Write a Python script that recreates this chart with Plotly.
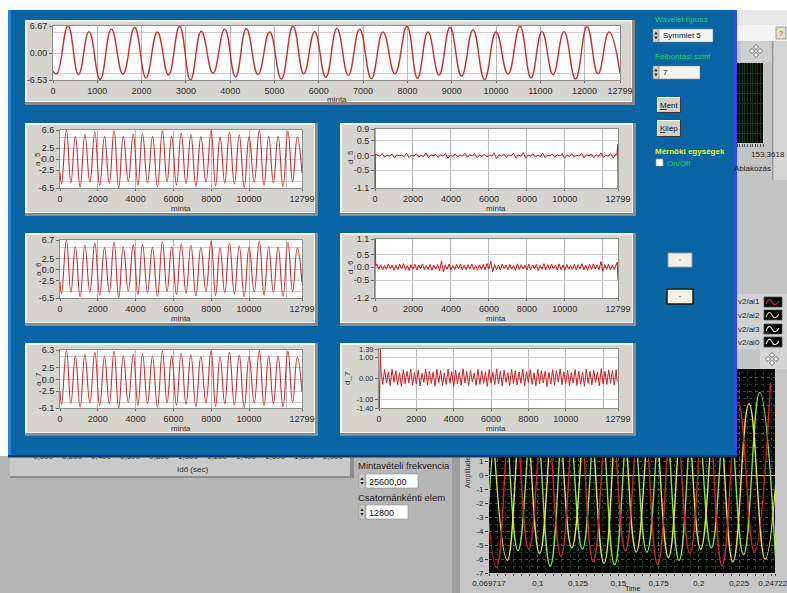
import plotly.graph_objects as go

# ------------------------------------------------------------------ data
N_SAMPLES = 12800
X_LAST = N_SAMPLES - 1

# sample index of every maximum / minimum of the measured waveform
PEAK_SAMPLES = [339, 813, 1317, 1843, 2355, 2859, 3348, 3875, 4364, 4891, 5417, 5906,
                6410, 6922, 7449, 7991, 8465, 8962, 9481, 10000, 10542, 11038, 11535,
                12054, 12551]
TROUGH_SAMPLES = [85, 576, 1065, 1580, 2099, 2607, 3104, 3612, 4120, 4628, 5154, 5662,
                  6158, 6666, 7186, 7720, 8228, 8714, 9222, 9741, 10271, 10790, 11287,
                  11795, 12303]

# original signal
SIGNAL_PEAKS = [6.67, 5.3, 5.9, 6.3, 5.2, 6.6, 5.4, 5.9, 6.0, 5.2, 6.6, 5.3, 6.1, 5.9, 5.2,
                6.6, 5.2, 6.3, 5.7, 5.2, 6.6, 5.3, 5.3, 6.5, 5.2]
SIGNAL_TROUGHS = [-5.0, -5.2, -6.4, -5.1, -6.0, -5.3, -6.53, -4.9, -5.8, -5.2, -6.3, -5.0,
                  -5.9, -5.4, -6.2, -5.0, -6.1, -5.3, -5.6, -6.4, -5.1, -6.0, -5.2, -6.3, -5.0]
SIGNAL_ENDS = [-4.3, -4.8]

# approximations a_5, a_6, a_7
A5_PEAKS = [6.6, 5.2, 5.6, 6.1, 5.1, 6.4, 5.2, 5.7, 5.8, 5.1, 6.4, 5.2, 5.9, 5.6, 5.1,
            6.5, 5.0, 6.1, 5.5, 5.1, 6.5, 5.2, 5.2, 6.3, 5.0]
A5_TROUGHS = [-5.6, -5.3, -6.3, -5.2, -5.9, -5.4, -6.5, -5.0, -5.8, -5.3, -6.2, -5.1, -5.8,
              -5.5, -6.1, -5.1, -6.0, -5.4, -5.6, -6.3, -5.2, -5.9, -5.3, -6.2, -5.1]
A5_ENDS = [-3.0, -3.2]

A6_PEAKS = [6.7, 5.1, 5.5, 6.0, 5.0, 6.3, 5.1, 5.6, 5.7, 5.0, 6.3, 5.1, 5.8, 5.5, 5.0,
            6.5, 4.9, 6.0, 5.4, 5.0, 6.4, 5.1, 5.1, 6.2, 4.9]
A6_TROUGHS = [-5.5, -5.2, -6.2, -5.1, -5.8, -5.3, -6.5, -4.9, -5.7, -5.2, -6.1, -5.0, -5.7,
              -5.4, -6.0, -5.0, -5.9, -5.3, -5.5, -6.2, -5.1, -5.8, -5.2, -6.1, -5.0]
A6_ENDS = [-2.8, -3.0]

A7_PEAKS = [6.3, 5.0, 5.3, 5.8, 4.9, 6.0, 5.0, 5.4, 5.5, 4.9, 6.1, 5.0, 5.6, 5.3, 4.9,
            6.2, 4.8, 5.8, 5.2, 4.9, 6.2, 5.0, 5.0, 6.0, 4.8]
A7_TROUGHS = [-5.3, -5.1, -5.9, -5.0, -5.6, -5.2, -6.1, -4.9, -5.5, -5.1, -5.9, -5.0, -5.5,
              -5.3, -5.8, -5.0, -5.7, -5.2, -5.4, -6.0, -5.0, -5.6, -5.1, -5.9, -4.9]
A7_ENDS = [-2.5, -2.7]

# detail d_5: edge transients + values every 128 samples
D5_HEAD_SAMPLES = [0, 6, 16]
D5_HEAD = [0.9, -1.1, 0.05]
D5_STEP = 128
D5_BODY = [0.02, -0.03, 0.07, -0.06, 0.01, -0.02, 0.05, -0.08, 0.03, -0.01,
           0.02, -0.04, 0.08, -0.07, 0.02, -0.02, 0.06, -0.05, 0.01, -0.03,
           0.09, -0.08, 0.02, -0.01, 0.04, -0.06, 0.03, -0.02, 0.07, -0.09,
           0.01, -0.03, 0.05, -0.04, 0.02, -0.02, 0.08, -0.06, 0.03, -0.01,
           0.06, -0.07, 0.02, -0.03, 0.04, -0.05, 0.01, -0.02, 0.09, -0.10,
           0.03, -0.02, 0.05, -0.06, 0.02, -0.01, 0.07, -0.08, 0.03, -0.03,
           0.10, -0.09, 0.02, -0.02, 0.06, -0.05, 0.01, -0.04, 0.08, -0.07,
           0.02, -0.01, 0.05, -0.06, 0.03, -0.02, 0.07, -0.09, 0.02, -0.03,
           0.06, -0.05, 0.01, -0.02, 0.08, -0.08, 0.03, -0.01, 0.05, -0.07,
           0.02, -0.03, 0.09, -0.06, 0.01, -0.02, 0.07, -0.08, 0.04]
D5_TAIL_SAMPLES = [12740, 12785, 12799]
D5_TAIL = [0.03, 0.38, -1.1]

# detail d_6: values every 100 samples
D6_HEAD_SAMPLES = [0, 12, 40]
D6_HEAD = [-1.2, 1.1, 0.05]
D6_STEP = 100
D6_BODY = [0.12, -0.08, 0.10, -0.11, 0.07, -0.09, 0.13, -0.06, 0.09, -0.12,
           0.08, -0.10, 0.11, -0.07, 0.14, -0.09, 0.06, -0.13, 0.10, -0.08,
           0.12, -0.11, 0.09, -0.06, 0.13, -0.10, 0.07, -0.09, 0.11, -0.12,
           0.08, -0.07, 0.10, -0.14, 0.24, -0.18, 0.09, -0.08, 0.12, -0.10,
           0.06, -0.09, 0.11, -0.07, 0.13, -0.11, 0.08, -0.10, 0.10, -0.06,
           0.12, -0.09, 0.07, -0.12, 0.09, -0.08, 0.11, -0.10, 0.14, -0.07,
           0.23, -0.19, 0.10, -0.09, 0.08, -0.11, 0.12, -0.06, 0.09, -0.10,
           0.11, -0.08, 0.07, -0.12, 0.13, -0.09, 0.10, -0.07, 0.08, -0.11,
           0.12, -0.10, 0.09, -0.06, 0.11, -0.13, 0.07, -0.08, 0.14, -0.10,
           0.10, -0.09, 0.12, -0.07, 0.08, -0.11, 0.13, -0.10, 0.09, -0.12,
           0.11, -0.08, 0.07, -0.09, 0.12, -0.11, 0.10, -0.06, 0.14, -0.10,
           0.08, -0.12, 0.11, -0.09, 0.13, -0.07, 0.09, -0.10, 0.22, -0.16,
           0.10, -0.09, 0.12, -0.11, 0.08, -0.10, 0.09]
D6_TAIL_SAMPLES = [12760, 12799]
D6_TAIL = [0.2, -0.5]

# detail d_7: values every 100 samples
D7_HEAD_SAMPLES = [0, 25, 70]
D7_HEAD = [-0.2, -1.4, 1.39]
D7_STEP = 100
D7_BODY = [0.38, -0.28, 0.42, -0.22, 0.31, -0.35, 0.44, -0.18, 0.36, -0.30,
           0.27, -0.38, 0.41, -0.25, 0.33, -0.21, 0.45, -0.33, 0.29, -0.27,
           0.39, -0.36, 0.24, -0.19, 0.43, -0.31, 0.35, -0.24, 0.30, -0.37,
           0.42, -0.20, 0.37, -0.34, 0.26, -0.29, 0.44, -0.23, 0.32, -0.39,
           0.40, -0.26, 0.28, -0.32, 0.46, -0.21, 0.34, -0.35, 0.38, -0.17,
           0.25, -0.33, 0.43, -0.28, 0.36, -0.24, 0.31, -0.38, 0.41, -0.22,
           0.29, -0.30, 0.45, -0.27, 0.33, -0.36, 0.39, -0.19, 0.27, -0.34,
           0.42, -0.25, 0.35, -0.31, 0.30, -0.23, 0.44, -0.37, 0.32, -0.20,
           0.40, -0.29, 0.26, -0.35, 0.43, -0.26, 0.37, -0.22, 0.34, -0.39,
           0.28, -0.27, 0.41, -0.32, 0.36, -0.18, 0.45, -0.30, 0.31, -0.25,
           0.39, -0.36, 0.27, -0.21, 0.42, -0.33, 0.35, -0.28, 0.29, -0.37,
           0.44, -0.24, 0.33, -0.31, 0.38, -0.20, 0.30, -0.35, 0.46, -0.26,
           0.34, -0.29, 0.40, -0.23, 0.37, -0.32, 0.41]
D7_TAIL_SAMPLES = [12750, 12799]
D7_TAIL = [-0.12, -0.16]

# axis tick values
TOP_YTICKS = [6.67, 0.00, -6.53]
TOP_YGRID = [5, -5]
TOP_XTICKS = [0, 1000, 2000, 3000, 4000, 5000, 6000, 7000, 8000, 9000, 10000, 11000,
              12000, 12799]
SMALL_XTICKS = [0, 2000, 4000, 6000, 8000, 10000, 12799]
SMALL_XGRID = [12000]
A5_YTICKS = [6.6, 2.5, 0.0, -2.5, -6.5]
A6_YTICKS = [6.7, 2.5, 0.0, -2.5, -6.5]
A7_YTICKS = [6.3, 2.5, 0.0, -2.5, -6.1]
A_YGRID = [5, -5]
D5_YTICKS = [0.9, 0.5, 0.0, -0.5, -1.1]
D6_YTICKS = [1.1, 0.5, 0.0, -0.5, -1.2]
D7_YTICKS = [1.39, 1.00, 0.00, -1.00, -1.40]

# three-phase scope traces (time of each max / min, value)
RED_PEAK_T = [0.0644, 0.0844, 0.1044, 0.1244, 0.1444, 0.1644, 0.1844, 0.2044, 0.2244, 0.2444]
RED_PEAK_V = [5.8, 6.2, 5.4, 6.5, 5.6, 6.1, 5.3, 6.4, 5.2, 6.6]
RED_TROUGH_T = [0.0744, 0.0944, 0.1144, 0.1344, 0.1544, 0.1744, 0.1944, 0.2144, 0.2344]
RED_TROUGH_V = [-6.6, -5.3, -5.8, -6.2, -5.4, -6.4, -5.6, -6.5, -5.5]
YEL_PEAK_T = [0.0711, 0.0911, 0.1111, 0.1311, 0.1511, 0.1711, 0.1911, 0.2111, 0.2311, 0.2511]
YEL_PEAK_V = [5.5, 6.0, 5.7, 5.2, 6.3, 5.4, 5.9, 5.6, 5.1, 5.8]
YEL_TROUGH_T = [0.0811, 0.1011, 0.1211, 0.1411, 0.1611, 0.1811, 0.2011, 0.2211, 0.2411]
YEL_TROUGH_V = [-6.1, -5.6, -5.2, -6.3, -5.5, -5.9, -5.3, -6.2, -6.0]
GRN_PEAK_T = [0.0777, 0.0977, 0.1177, 0.1377, 0.1577, 0.1777, 0.1977, 0.2177, 0.2377]
GRN_PEAK_V = [6.1, 5.4, 5.9, 6.2, 5.3, 5.8, 6.0, 5.5, 5.9]
GRN_TROUGH_T = [0.0677, 0.0877, 0.1077, 0.1277, 0.1477, 0.1677, 0.1877, 0.2077, 0.2277, 0.2477]
GRN_TROUGH_V = [-5.6, -5.4, -6.5, -5.3, -6.4, -5.5, -6.1, -5.2, -5.7, -6.3]

SCOPE_T_RANGE = [0.069717, 0.247227]
SCOPE_V_RANGE = [-7.0, 7.357]
SCOPE_TIME_TICKS = [0.069717, 0.1, 0.125, 0.15, 0.175, 0.2, 0.225, 0.247227]
SCOPE_AMP_TICKS = [1, 0, -1, -2, -3, -4, -5, -6, -7]

TIME_AXIS_TICKS = [0.0, 0.2, 0.4, 0.6, 0.8, 1.0, 1.2, 1.4, 1.6, 1.8, 2.0]

# ------------------------------------------------------------ helpers
W, H = 787, 593
FONT = 'Liberation Sans, Arial, sans-serif'
BLUE = '#0864a2'
FACE = '#d6d4cf'


def fx(x):
    return x / W


def fy(y):
    return 1 - y / H


def xdom(a, b):
    return [a / W, b / W]


def ydom(a, b):
    return [1 - b / H, 1 - a / H]


shapes = []
annos = []
layout_axes = {}
traces = []


def rect(x0, y0, x1, y1, fill, line=None, lw=0, layer='below'):
    shapes.append(dict(type='rect', xref='paper', yref='paper', x0=fx(x0), x1=fx(x1),
                       y0=fy(y1), y1=fy(y0), fillcolor=fill, layer=layer,
                       line=dict(color=line or fill, width=lw)))


def poly(points, fill, line=None, lw=0, close=True):
    d = 'M ' + ' L '.join(f'{fx(x):.5f},{fy(y):.5f}' for x, y in points)
    if close:
        d += ' Z'
    shapes.append(dict(type='path', xref='paper', yref='paper', path=d, layer='below',
                       fillcolor=fill if close else None,
                       line=dict(color=line or fill, width=lw)))


def curve(d_points, color, lw=1.2):
    (x0, y0), (x1, y1), (x2, y2), (x3, y3) = d_points
    d = (f'M {fx(x0):.5f},{fy(y0):.5f} Q {fx(x1):.5f},{fy(y1):.5f} '
         f'{fx(x2):.5f},{fy(y2):.5f} T {fx(x3):.5f},{fy(y3):.5f}')
    shapes.append(dict(type='path', xref='paper', yref='paper', path=d, layer='below',
                       line=dict(color=color, width=lw)))


def text(x, y, s, size=8, color='#222222', xanchor='left', angle=0, family=FONT):
    annos.append(dict(xref='paper', yref='paper', x=fx(x), y=fy(y), text=s,
                      showarrow=False, xanchor=xanchor, yanchor='middle',
                      textangle=angle, borderpad=0,
                      font=dict(size=size, color=color, family=family)))


def names(i):
    s = '' if i == 1 else str(i)
    return 'xaxis' + s, 'yaxis' + s, 'x' + s, 'y' + s


def diamond_glyph(cx, cy):
    for dx, dy in [(0, -4), (4, 0), (0, 4), (-4, 0)]:
        c = (cx + dx, cy + dy)
        poly([(c[0], c[1] - 2.6), (c[0] + 2.6, c[1]), (c[0], c[1] + 2.6), (c[0] - 2.6, c[1])],
             '#f4f4f4', '#6e6e6e', 1)


def frame(x0, y0, x1, y1):
    rect(x0, y0, x1, y1, '#8a8a8a')
    rect(x0, y0, x1 - 3, y1 - 3, '#f3f3ef')
    rect(x0 + 2, y0 + 2, x1 - 4, y1 - 4, FACE)


def spinner(x0, y0, y1):
    rect(x0, y0, x0 + 6, y1, '#d4d0c8', '#8a8a8a', 0.5)
    m = (y0 + y1) / 2
    poly([(x0 + 1.2, m - 1), (x0 + 4.8, m - 1), (x0 + 3, m - 4)], '#303030')
    poly([(x0 + 1.2, m + 1), (x0 + 4.8, m + 1), (x0 + 3, m + 4)], '#303030')


TICKFONT = dict(family=FONT, size=9, color='#2b2b2b')


def lv_axes(i, xd, yd, xticks, xgrid, yticks, ydigits, ygrid, ysize=9):
    xk, yk, xr, yr = names(i)
    layout_axes[xk] = dict(
        domain=xdom(*xd), anchor=yr, range=[0, X_LAST], tickmode='array', automargin=False,
        tickvals=xticks, ticktext=[str(v) for v in xticks], ticks='outside', ticklen=2,
        tickcolor='#6a6a6a', tickfont=TICKFONT, showgrid=True, gridcolor='#b7b7b7',
        zeroline=False, showline=True, linecolor='#8c8c8c', mirror=True,
        minor=dict(tickmode='array', tickvals=xgrid, showgrid=True,
                   gridcolor='#b7b7b7', ticks=''))
    layout_axes[yk] = dict(
        domain=ydom(*yd), anchor=xr, range=[yticks[-1], yticks[0]], tickmode='array',
        automargin=False,
        tickvals=yticks, ticktext=[f'{v:.{ydigits}f}' for v in yticks], ticks='outside',
        ticklen=3, tickcolor='#6a6a6a', tickfont=dict(TICKFONT, size=ysize), showgrid=True,
        gridcolor='#d2cccc', zeroline=False, showline=True, linecolor='#8c8c8c',
        mirror=True,
        minor=dict(tickmode='array', tickvals=ygrid, showgrid=True,
                   gridcolor='#d2cccc', ticks=''))
    return xr, yr


def waveform(peaks, troughs, ends):
    pts = sorted(list(zip(PEAK_SAMPLES, peaks)) + list(zip(TROUGH_SAMPLES, troughs)))
    xs = [0] + [p[0] for p in pts] + [X_LAST]
    ys = [ends[0]] + [p[1] for p in pts] + [ends[1]]
    return xs, ys


def detail(head_s, head, step, body, tail_s, tail):
    xs = head_s + [step * (k + 1) for k in range(len(body))] + tail_s
    return xs, head + body + tail


def phase(pt, pv, tt, tv):
    pts = sorted(list(zip(pt, pv)) + list(zip(tt, tv)))
    return [p[0] for p in pts], [p[1] for p in pts]


def add_line(xr, yr, xs, ys, color, width, shape='linear'):
    line = dict(color=color, width=width, shape=shape)
    if shape == 'spline':
        line['smoothing'] = 1.3
    traces.append(go.Scatter(x=xs, y=ys, mode='lines', xaxis=xr, yaxis=yr, line=line,
                             hoverinfo='skip', showlegend=False))


# ------------------------------------------------ background of the front panel
rect(735, 10, 787, 593, '#c3c3c3')
rect(0, 456, 787, 593, '#b5b5b5')

# right-hand strip of the underlying panel
rect(737, 10, 787, 25, '#e8e8e8')
rect(737, 25, 787, 41, '#f4f4f4')
rect(776, 27, 786, 39, '#e6dfc4', '#8a8a8a', 0.8)
text(781, 33, '?', size=7, color='#6a5a20', xanchor='center')
rect(773, 41, 787, 180, '#d5d5d5')
rect(772, 41, 773.5, 180, '#9a9a9a')
rect(741, 41, 771, 62, '#d0d0d0')
diamond_glyph(756, 51)
rect(737, 63, 763, 143, '#000000')
text(786, 154, '153,3618', size=8, color='#202020', xanchor='right')
text(752, 168, 'Ablakozás', size=8, color='#202020', xanchor='center')

# channel legend
rect(735, 294, 787, 349, '#d2d2d2')
legend_rows = [('v2/ai1', 302, '#c83030'), ('v2/ai2', 315, '#e0e040'),
               ('v2/ai3', 329, '#e8e8e8'), ('v2/ai0', 342, '#f4f4f4')]
for label, yy, col in legend_rows:
    text(737, yy, label, size=8, color='#202020')
    rect(764, yy - 5, 782, yy + 5, '#000000', '#505050', 0.8)
    curve([(766, yy + 2), (769, yy - 6), (772, yy), (779, yy - 1)], col, 1.1)
rect(760, 349, 787, 369, '#d4d4d4')
diamond_glyph(772, 359)

# scope panel
rect(460, 369, 787, 593, '#c6c6c6')
rect(452, 456, 460, 593, '#9e9e9e')
rect(489, 369, 775, 573, '#000000')
text(468, 473, 'Amplitude', size=7, color='#333333', xanchor='center', angle=-90)

# lower left panel with the time axis
rect(10, 456, 354, 478, '#8e8e8e')
rect(10, 456, 350, 476, '#c9c9c9')
text(192, 469, 'Idő (sec)', size=8, color='#2a2a2a', xanchor='center')
text(357, 465, 'Mintavételi frekvencia', size=9.5, color='#1c1c1c')
spinner(359, 474, 488)
rect(366, 474, 418, 488, '#ffffff', '#8c8c8c', 0.6)
text(368, 481.5, '25600,00', size=9, color='#111111')
text(357, 497, 'Csatornánkénti elem', size=9.5, color='#1c1c1c')
spinner(359, 505, 519)
rect(366, 505, 408, 519, '#ffffff', '#8c8c8c', 0.6)
text(368, 512.5, '12800', size=9, color='#111111')

# ------------------------------------------------ the wavelet window
rect(8, 10, 737, 457, BLUE)
rect(8, 10, 11, 457, '#2f7fd0')
rect(734, 10, 737, 457, '#2c48ee')

frame(25, 20, 635, 105)
rect(53, 26, 620, 80, '#ffffff')
for (y0, y1) in [(123, 216), (233, 326), (343, 436)]:
    frame(25, y0, 318, y1)
    frame(340, y0, 636, y1)
for (y0, y1) in [(130, 188), (240, 298), (350, 408)]:
    rect(60, y0, 302, y1, '#ffffff')
rect(375, 129, 618, 188, '#ffffff')
rect(375, 239, 618, 298, '#ffffff')
rect(379, 349, 618, 408, '#ffffff')

# axis captions
text(337, 99.5, 'minta', size=8, color='#333333', xanchor='center')
for yy in (208.5, 318.5, 428.5):
    text(181, yy, 'minta', size=8, color='#333333', xanchor='center')
for yy in (208.5, 318.5, 428.5):
    text(496, yy, 'minta', size=8, color='#333333', xanchor='center')
for lab, yy in (('a_5', 159), ('a_6', 269), ('a_7', 379)):
    text(38, yy, lab, size=8, color='#333333', xanchor='center', angle=-90)
for lab, xx, yy in (('d_5', 350, 157), ('d_6', 350, 267), ('d_7', 347, 378)):
    text(xx, yy, lab, size=8, color='#333333', xanchor='center', angle=-90)

# controls on the right side of the window
text(654, 20, 'Wavelet típusa', size=8, color='#1fd35c')
spinner(653, 29, 42)
rect(659, 29, 713, 42, '#f4f4f0', '#8a8a8a', 0.6)
text(662, 35.5, 'Symmlet 5', size=8, color='#111111')
text(654, 57, 'Felbontási szint', size=8, color='#1fd35c')
spinner(653, 66, 79)
rect(659, 66, 700, 79, '#f4f4f0', '#8a8a8a', 0.6)
text(662, 72.5, '7', size=8, color='#111111')
for (y0, y1, lab) in ((97, 113, '<span style="text-decoration:underline">M</span>ent'),
                      (120, 137, '<span style="text-decoration:underline">K</span>ilép')):
    rect(657, y0, 681, y1, '#3a3a3a')
    rect(657, y0, 680, y1 - 1, '#ffffff')
    rect(658, y0 + 1, 680, y1 - 1, '#d4d0c8')
    text(669, (y0 + y1) / 2, lab, size=8, color='#111111', xanchor='center')
text(654, 152, '<b>Mérnöki egységek</b>', size=8, color='#eef02a')
rect(656, 159, 663, 166, '#ffffff', '#9a9a9a', 0.6)
text(666, 163, 'On/Off', size=8, color='#1fd35c')
rect(668, 253, 692, 267, '#f3efe2', '#8f9aa8', 1)
rect(679.5, 259.5, 680.5, 260.5, '#404040')
rect(667, 289, 693, 304, '#f3efe2', '#1a1a1a', 1.5)
rect(679.5, 296, 680.5, 297, '#404040')

# bottom edge of the window, drawn over the partly hidden time axis labels
rect(11, 440, 734, 455, BLUE, layer='above')
rect(8, 455, 737, 457.5, '#073c6e', layer='above')

# ------------------------------------------------ charts
charts = [
    (1, (53, 620), (26, 80), TOP_XTICKS, [], TOP_YTICKS, 2, TOP_YGRID, 9,
     waveform(SIGNAL_PEAKS, SIGNAL_TROUGHS, SIGNAL_ENDS), '#cc2b2b', 1.4, 'spline'),
    (2, (60, 302), (130, 188), SMALL_XTICKS, SMALL_XGRID, A5_YTICKS, 1, A_YGRID, 9,
     waveform(A5_PEAKS, A5_TROUGHS, A5_ENDS), '#cc2b2b', 1.1, 'spline'),
    (3, (375, 618), (129, 188), SMALL_XTICKS, SMALL_XGRID, D5_YTICKS, 1, [], 9,
     detail(D5_HEAD_SAMPLES, D5_HEAD, D5_STEP, D5_BODY, D5_TAIL_SAMPLES, D5_TAIL),
     '#dd1111', 1.0, 'linear'),
    (4, (60, 302), (240, 298), SMALL_XTICKS, SMALL_XGRID, A6_YTICKS, 1, A_YGRID, 9,
     waveform(A6_PEAKS, A6_TROUGHS, A6_ENDS), '#cc2b2b', 1.1, 'spline'),
    (5, (375, 618), (239, 298), SMALL_XTICKS, SMALL_XGRID, D6_YTICKS, 1, [], 9,
     detail(D6_HEAD_SAMPLES, D6_HEAD, D6_STEP, D6_BODY, D6_TAIL_SAMPLES, D6_TAIL),
     '#dd1111', 1.0, 'linear'),
    (6, (60, 302), (350, 408), SMALL_XTICKS, SMALL_XGRID, A7_YTICKS, 1, A_YGRID, 9,
     waveform(A7_PEAKS, A7_TROUGHS, A7_ENDS), '#cc2b2b', 1.1, 'spline'),
    (7, (379, 618), (349, 408), SMALL_XTICKS, SMALL_XGRID, D7_YTICKS, 2, [], 7.5,
     detail(D7_HEAD_SAMPLES, D7_HEAD, D7_STEP, D7_BODY, D7_TAIL_SAMPLES, D7_TAIL),
     '#d81c1c', 1.0, 'linear'),
]
for (i, xd, yd, xt, xg, yt, nd, yg, ysz, (xs, ys), col, lw, shp) in charts:
    xr, yr = lv_axes(i, xd, yd, xt, xg, yt, nd, yg, ysz)
    add_line(xr, yr, xs, ys, col, lw, shp)

# ------------------------------------------------ scope (split around the window)
SC_X0, SC_X1, SC_Y0, SC_Y1 = 489, 775, 372, 573
CUT_X, CUT_Y = 737, 457.5


def t_at(px_x):
    return SCOPE_T_RANGE[0] + (px_x - SC_X0) / (SC_X1 - SC_X0) * (SCOPE_T_RANGE[1] - SCOPE_T_RANGE[0])


def v_at(px_y):
    return SCOPE_V_RANGE[0] + (SC_Y1 - px_y) / (SC_Y1 - SC_Y0) * (SCOPE_V_RANGE[1] - SCOPE_V_RANGE[0])


SCOPE_FONT = dict(family=FONT, size=8, color='#202020')
grid_common = dict(showgrid=True, gridcolor='#2a6a2a', griddash='dot', gridwidth=1,
                   automargin=False)
layout_axes['xaxis8'] = dict(
    domain=xdom(SC_X0, SC_X1), anchor='y8', range=SCOPE_T_RANGE, tickmode='array',
    tickvals=SCOPE_TIME_TICKS, ticktext=[str(v).replace('.', ',') for v in SCOPE_TIME_TICKS],
    ticks='outside', ticklen=2, tickcolor='#303030', tickfont=SCOPE_FONT, zeroline=False,
    showline=False, ticklabeloverflow='allow',
    minor=dict(tickmode='linear', tick0=0, dtick=0.005, showgrid=True, gridcolor='#174417',
               griddash='dot', ticks='outside', ticklen=2, tickcolor='#404040'),
    **grid_common)
layout_axes['yaxis8'] = dict(
    domain=ydom(CUT_Y, SC_Y1), anchor='x8', range=[SCOPE_V_RANGE[0], v_at(CUT_Y)],
    tickmode='array', tickvals=SCOPE_AMP_TICKS, ticktext=[str(v) for v in SCOPE_AMP_TICKS],
    ticks='outside', ticklen=3, tickcolor='#303030', tickfont=SCOPE_FONT, zeroline=True,
    zerolinecolor='#bdbdbd', zerolinewidth=1, showline=False,
    minor=dict(tickmode='linear', tick0=0, dtick=0.5, showgrid=True, gridcolor='#174417',
               griddash='dot'),
    **grid_common)
layout_axes['xaxis9'] = dict(
    domain=xdom(CUT_X, SC_X1), anchor='y9', range=[t_at(CUT_X), SCOPE_T_RANGE[1]],
    tickmode='array', tickvals=SCOPE_TIME_TICKS, showticklabels=False, ticks='',
    zeroline=False, showline=False,
    minor=dict(tickmode='linear', tick0=0, dtick=0.005, showgrid=True, gridcolor='#174417',
               griddash='dot'),
    **grid_common)
layout_axes['yaxis9'] = dict(
    domain=ydom(SC_Y0, CUT_Y), anchor='x9', range=[v_at(CUT_Y), SCOPE_V_RANGE[1]],
    tickmode='linear', tick0=0, dtick=1, showticklabels=False, ticks='', zeroline=False,
    showline=False,
    minor=dict(tickmode='linear', tick0=0, dtick=0.5, showgrid=True, gridcolor='#174417',
               griddash='dot'),
    **grid_common)
text(632, 588.5, 'Time', size=7, color='#202020', xanchor='center')

for (pt, pv, tt, tv, col) in ((GRN_PEAK_T, GRN_PEAK_V, GRN_TROUGH_T, GRN_TROUGH_V, '#8fe14c'),
                              (YEL_PEAK_T, YEL_PEAK_V, YEL_TROUGH_T, YEL_TROUGH_V, '#e3e63e'),
                              (RED_PEAK_T, RED_PEAK_V, RED_TROUGH_T, RED_TROUGH_V, '#d42a22')):
    ts, vs = phase(pt, pv, tt, tv)
    add_line('x8', 'y8', ts, vs, col, 1.4, 'spline')
    add_line('x9', 'y9', ts, vs, col, 1.4, 'spline')

# small black display in the right strip
layout_axes['xaxis10'] = dict(domain=xdom(737, 763), anchor='y10', range=[0, 1],
                              tickmode='linear', tick0=0, dtick=0.1, showticklabels=False,
                              ticks='outside', ticklen=3, tickcolor='#505050',
                              showgrid=True, gridcolor='#0d3f0d', zeroline=False,
                              showline=False, automargin=False)
layout_axes['yaxis10'] = dict(domain=ydom(63, 143), anchor='x10', range=[0, 1],
                              tickmode='linear', tick0=0, dtick=0.125, showticklabels=False,
                              ticks='', showgrid=True, gridcolor='#0d3f0d', zeroline=False,
                              showline=False, automargin=False)
traces.append(go.Scatter(x=[None], y=[None], xaxis='x10', yaxis='y10', mode='lines',
                         hoverinfo='skip', showlegend=False))

# time axis of the graph behind the window (only its lower edge shows)
layout_axes['xaxis11'] = dict(domain=xdom(43, 333), anchor='y11', range=[0, 2],
                              tickmode='array', tickvals=TIME_AXIS_TICKS,
                              ticktext=[f'{v:.3f}'.replace('.', ',') for v in TIME_AXIS_TICKS],
                              ticks='', tickfont=dict(family=FONT, size=8, color='#3a3a3a'),
                              showgrid=False, zeroline=False, showline=False,
                              automargin=False)
layout_axes['yaxis11'] = dict(domain=ydom(448, 450), anchor='x11', range=[0, 1],
                              visible=False, automargin=False)
traces.append(go.Scatter(x=[0, 2], y=[-1, -1], xaxis='x11', yaxis='y11', mode='lines',
                         line=dict(color='rgba(0,0,0,0)'), hoverinfo='skip',
                         showlegend=False))

fig = go.Figure(data=traces)
fig.update_layout(
    width=W, height=H, autosize=False,
    margin=dict(l=0, r=0, t=0, b=0, pad=0),
    paper_bgcolor='#ffffff', plot_bgcolor='rgba(0,0,0,0)',
    showlegend=False, hovermode=False,
    shapes=shapes, annotations=annos,
    **layout_axes)
fig.write_html('out.html')
